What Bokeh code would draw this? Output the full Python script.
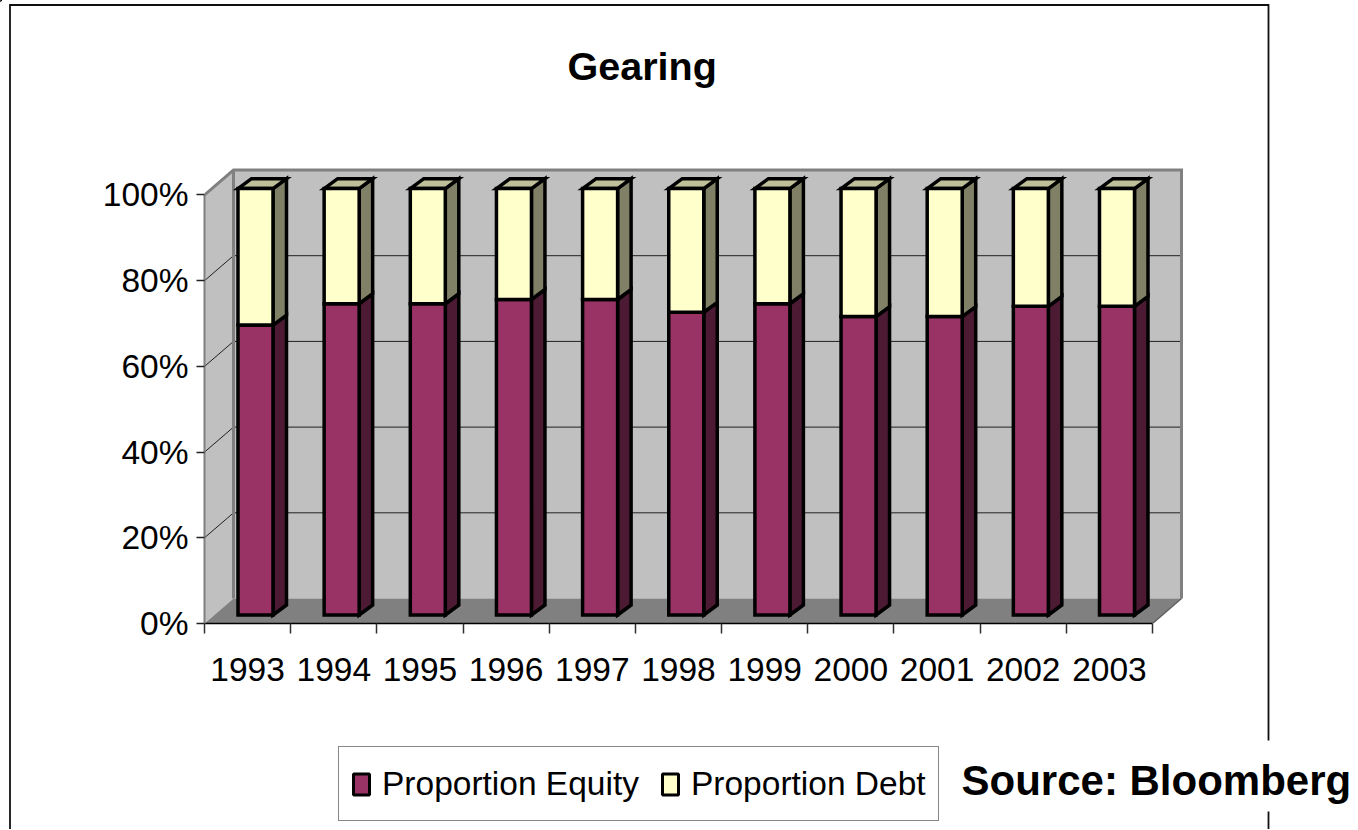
from bokeh.plotting import figure
from bokeh.layouts import column
from bokeh.models import Label, Legend, LegendItem, LinearAxis, FixedTicker, Range1d
from bokeh.embed import file_html
from bokeh.resources import INLINE

years = ["1993", "1994", "1995", "1996", "1997", "1998", "1999", "2000", "2001", "2002", "2003"]
equity = [68, 73, 73, 74, 74, 71, 73, 70, 70, 72.4, 72.4]
debt = [32, 27, 27, 26, 26, 29, 27, 30, 30, 27.6, 27.6]
y_ticks = [0, 20, 40, 60, 80, 100]
y_labels = ["0%", "20%", "40%", "60%", "80%", "100%"]

SANS = "Liberation Sans"
W, H = 1358, 830
LEFT, BOTTOM_PX, TOP_PX, RIGHT_PX = 204, 623.5, 165, 1184
PX_X = 86.18          # pixels per category
PX_Y = 4.29           # pixels per percent
EQ_COLOR, DEBT_COLOR = "#993366", "#FFFFCC"

def ux(px):
    return px / PX_X

def uy(px):
    return px / PX_Y

n = len(years)
wall_dx, wall_dy = ux(29), uy(25)
bar_base, bar_scale = uy(8.5), 0.995
bar_left = [ux(33.5 + 86.15 * i) for i in range(n)]
bar_w = ux(35)
bar_dx, bar_dy = ux(13.5), uy(10)

p = figure(width=W, height=H, output_backend="svg", toolbar_location=None,
           x_range=Range1d(0, ux(RIGHT_PX - LEFT)), y_range=Range1d(0, uy(BOTTOM_PX - TOP_PX)),
           x_axis_type=None, y_axis_type=None,
           frame_width=RIGHT_PX - LEFT, frame_height=int(BOTTOM_PX - TOP_PX),
           min_border_left=LEFT, min_border_right=W - RIGHT_PX,
           min_border_top=int(TOP_PX), min_border_bottom=int(H - BOTTOM_PX),
           margin=(0, 0, 0, 0), frame_align=False)
p.grid.visible = False
p.outline_line_color = None
p.background_fill_color = "white"
p.border_fill_color = "white"

# walls and floor
xs0, xs1 = n, n + wall_dx
p.patch([0, wall_dx, wall_dx, 0], [0, wall_dy, 100 + wall_dy, 100], fill_color="#C0C0C0", line_color=None)
p.patch([wall_dx, xs1, xs1, wall_dx], [wall_dy, wall_dy, 100 + wall_dy, 100 + wall_dy], fill_color="#C0C0C0", line_color=None)
p.patch([0, wall_dx, xs1, xs0], [0, wall_dy, wall_dy, 0], fill_color="#808080", line_color=None)

# gridlines on side and back wall
for t in y_ticks[1:-1]:
    p.line([0, wall_dx, xs1], [t, t + wall_dy, t + wall_dy], line_color="#202020", line_width=1)

# wall edges
edge = dict(line_color="#808080", line_width=3, line_join="miter")
p.line([0, wall_dx, xs1, xs1], [100, 100 + wall_dy, 100 + wall_dy, wall_dy], **edge)
p.line([wall_dx, wall_dx], [wall_dy, 100 + wall_dy], **edge)
p.line([xs0, xs1], [0, wall_dy], line_color="#606060", line_width=1.5)

# 3D sides and caps
def side(xl, lo, hi):
    xr = xl + bar_w
    return ([xr, xr + bar_dx, xr + bar_dx, xr], [lo, lo + bar_dy, hi + bar_dy, hi])

bar_line = dict(line_color="black", line_width=3.5, line_join="miter")
eq_bot, eq_top, de_top, sx_e, sy_e, sx_d, sy_d, cx, cy = [], [], [], [], [], [], [], [], []
for i in range(n):
    lo = bar_base
    mid = bar_base + equity[i] * bar_scale
    hi = mid + debt[i] * bar_scale
    eq_bot.append(lo)
    eq_top.append(mid)
    de_top.append(hi)
    a, b = side(bar_left[i], lo, mid)
    sx_e.append(a); sy_e.append(b)
    a, b = side(bar_left[i], mid, hi)
    sx_d.append(a); sy_d.append(b)
    xl = bar_left[i]
    cx.append([xl, xl + bar_dx, xl + bar_w + bar_dx, xl + bar_w])
    cy.append([hi, hi + bar_dy, hi + bar_dy, hi])

p.patches(sx_e, sy_e, fill_color="#4D1A33", **bar_line)
p.patches(sx_d, sy_d, fill_color="#808066", **bar_line)
p.patches(cx, cy, fill_color="#BFBF99", **bar_line)

centers = [x + bar_w / 2 for x in bar_left]
p.vbar(x=centers, width=bar_w, bottom=eq_bot, top=eq_top, fill_color=EQ_COLOR, **bar_line)
p.vbar(x=centers, width=bar_w, bottom=eq_top, top=de_top, fill_color=DEBT_COLOR, **bar_line)

# axes
y_axis = LinearAxis(ticker=FixedTicker(ticks=y_ticks), bounds=(0, 100),
                    major_label_overrides=dict(zip(y_ticks, y_labels)),
                    major_label_text_font=SANS, major_label_text_font_size="33.5px",
                    major_label_text_color="black", major_label_standoff=8,
                    major_tick_in=0, major_tick_out=8, major_tick_line_color="#202020",
                    major_tick_line_width=1.5, minor_tick_line_color=None,
                    axis_line_color="#808080", axis_line_width=2)
p.add_layout(y_axis, "left")

label_pos = [i + 0.5 for i in range(n)]
x_axis = LinearAxis(ticker=FixedTicker(ticks=label_pos, minor_ticks=list(range(n + 1))), bounds=(0, n),
                    major_label_overrides=dict(zip(label_pos, years)),
                    major_label_text_font=SANS, major_label_text_font_size="33.5px",
                    major_label_text_color="black", major_label_standoff=24,
                    major_tick_line_color=None, major_tick_in=0, major_tick_out=0,
                    minor_tick_in=0, minor_tick_out=10, minor_tick_line_color="#303030",
                    minor_tick_line_width=1.5,
                    axis_line_color="black", axis_line_width=1.5)
p.add_layout(x_axis, "below")

# transparent page-sized layer over the plot: outer frame, title, legend and source note
q = figure(width=W, height=H, output_backend="svg", toolbar_location=None,
           x_range=Range1d(0, W), y_range=Range1d(H, 0), x_axis_type=None, y_axis_type=None,
           min_border=0, margin=(-H, 0, 0, 0), frame_align=False)
q.grid.visible = False
q.outline_line_color = None
q.background_fill_alpha = 0
q.border_fill_alpha = 0

frame_line = dict(line_color="#101010", line_width=1.8, line_join="miter")
q.line([9.5, 9.5, 1268, 1268], [H, 5.5, 5.5, 741], **frame_line)
q.line([1268, 1268], [812, H], **frame_line)

q.add_layout(Label(x=567, y=66, text="Gearing", text_font=SANS, text_font_size="39.5px",
                   text_font_style="bold", text_color="black", text_baseline="alphabetic"))
q.add_layout(Label(x=961, y=781, text="Source: Bloomberg", text_font=SANS, text_font_size="42px",
                   text_font_style="bold", text_color="black", text_baseline="alphabetic"))

# legend keys: one row each, lying off the page, so only their swatches show
swatch_line = dict(line_color="black", line_width=3)
k_e = q.vbar(x=[-50], width=1, bottom=[0], top=[1], fill_color=EQ_COLOR, **swatch_line)
k_d = q.vbar(x=[-50], width=1, bottom=[0], top=[1], fill_color=DEBT_COLOR, **swatch_line)
legend = Legend(items=[LegendItem(label="Proportion Equity", renderers=[k_e]),
                       LegendItem(label="Proportion Debt", renderers=[k_d])],
                orientation="horizontal", location=(338, 8), margin=0,
                padding=12, spacing=21, label_standoff=11, glyph_width=20, glyph_height=26, label_height=49,
                label_text_font=SANS, label_text_font_size="33.5px", label_text_color="black",
                border_line_color="#101010", border_line_width=1.5, background_fill_color="white", background_fill_alpha=1)
q.add_layout(legend, "center")

open("out.html", "w").write(file_html(column(p, q), INLINE))
